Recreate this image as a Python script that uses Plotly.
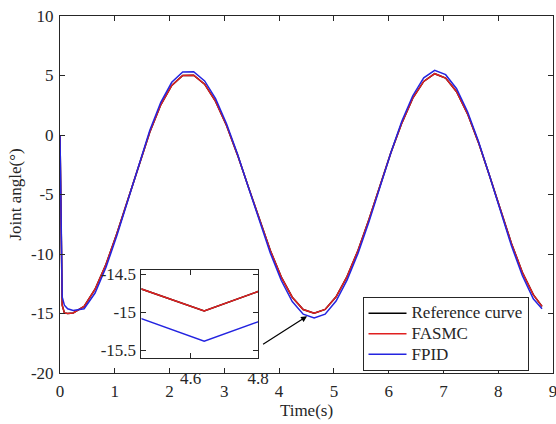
import plotly.graph_objects as go

time_s = [0, 0.02, 0.04, 0.08, 0.14, 0.24, 0.44, 0.64, 0.84, 1.04, 1.24, 1.44, 1.64, 1.84, 2.04,
          2.24, 2.44, 2.64, 2.84, 3.04, 3.24, 3.44, 3.64, 3.84, 4.04, 4.24, 4.44, 4.64, 4.84,
          5.04, 5.24, 5.44, 5.64, 5.84, 6.04, 6.24, 6.44, 6.64, 6.84, 7.04, 7.24, 7.44, 7.64,
          7.84, 8.04, 8.24, 8.44, 8.64, 8.80]

fasmc = [0, -8.0, -14.3, -14.95, -15.0, -14.95, -14.4, -12.96, -10.86, -8.26, -5.37, -2.45, 0.26,
         2.54, 4.17, 5.01, 5.02, 4.27, 2.83, 0.80, -1.67, -4.38, -7.13, -9.71, -11.94, -13.63,
         -14.67, -14.98, -14.66, -13.6, -11.9, -9.7, -7.1, -4.3, -1.5, 1.0, 3.1, 4.5, 5.15,
         4.78, 3.64, 1.78, -0.64, -3.41, -6.31, -9.09, -11.53, -13.42, -14.40]

reference = [0, -8.0, -14.3, -14.95, -15.0, -14.95, -14.4, -12.96, -10.86, -8.26, -5.37, -2.45, 0.26,
             2.54, 4.17, 5.01, 5.02, 4.27, 2.83, 0.80, -1.67, -4.38, -7.13, -9.71, -11.94, -13.63,
             -14.67, -14.98, -14.66, -13.6, -11.9, -9.7, -7.1, -4.3, -1.5, 1.0, 3.1, 4.5, 5.15,
             4.78, 3.64, 1.78, -0.64, -3.41, -6.31, -9.09, -11.53, -13.42, -14.40]

fpid = [0, -7.0, -13.6, -14.3, -14.6, -14.75, -14.6, -13.28, -11.12, -8.43, -5.44, -2.41, 0.40,
        2.75, 4.43, 5.30, 5.32, 4.54, 3.05, 0.95, -1.60, -4.41, -7.25, -9.93, -12.23, -13.99,
        -15.06, -15.38, -15.06, -13.95, -12.2, -9.95, -7.3, -4.4, -1.5, 1.15, 3.3, 4.8, 5.43,
        5.07, 3.89, 1.96, -0.54, -3.41, -6.41, -9.29, -11.81, -13.77, -14.6]

x_ticks = [0, 1, 2, 3, 4, 5, 6, 7, 8, 9]
y_ticks = [-20, -15, -10, -5, 0, 5, 10]
y_ticktext = ["-20", "-15", "-10", "-5", "0", "5", "10"]
inset_x_ticks = [4.6, 4.8]
inset_y_ticks = [-15.5, -15, -14.5]
inset_y_ticktext = ["-15.5", "-15", "-14.5"]

names = ["Reference curve", "FASMC", "FPID"]
colors = ["#000000", "#e02020", "#2424e0"]
series = [reference, fasmc, fpid]

FONT = "Liberation Serif"
AX = "#262626"

fig = go.Figure()
for nm, col, ys in zip(names, colors, series):
    fig.add_trace(go.Scatter(x=time_s, y=ys, mode="lines",
                             name='<span style="font-size:17px">' + nm + '</span>',
                             line=dict(color=col, width=1.5)))
for nm, col, ys in zip(names, colors, series):
    fig.add_trace(go.Scatter(x=time_s, y=ys, mode="lines", name=nm, showlegend=False,
                             line=dict(color=col, width=1.5), xaxis="x2", yaxis="y2"))

axis_common = dict(showline=True, mirror="ticks", linecolor=AX, linewidth=1,
                   ticks="inside", ticklen=5, tickcolor=AX, showgrid=False, zeroline=False,
                   automargin=False,
                   tickfont=dict(family=FONT, size=17, color="#262626"))

fig.update_layout(
    width=556, height=424,
    margin=dict(l=60, r=3, t=16, b=51),
    plot_bgcolor="white", paper_bgcolor="white",
    font=dict(family=FONT, size=17, color="#262626"),
    xaxis=dict(range=[0, 9], tickvals=x_ticks, domain=[0, 1], ticklabelstandoff=3,
               ticklabeloverflow="allow",
               title=dict(text="Time(s)", font=dict(family=FONT, size=17), standoff=2),
               **axis_common),
    yaxis=dict(range=[-20, 10], tickvals=y_ticks, ticktext=y_ticktext, domain=[0, 1],
               ticklabelstandoff=2,
               title=dict(text="Joint angle(°)", font=dict(family=FONT, size=17), standoff=4),
               **axis_common),
    xaxis2=dict(range=[4.454, 4.8001], tickvals=inset_x_ticks, domain=[0.1653, 0.402],
                anchor="y2", ticklabelstandoff=5, ticklabeloverflow="allow", **axis_common),
    yaxis2=dict(range=[-15.597, -14.434], tickvals=inset_y_ticks, ticktext=inset_y_ticktext,
                domain=[0.0432, 0.2899], anchor="x2", ticklabelstandoff=1, **axis_common),
    legend=dict(x=0.6136, y=0.2131, xanchor="left", yanchor="top",
                bgcolor="white", bordercolor="#262626", borderwidth=1,
                font=dict(family=FONT, size=13.5, color="#262626"),
                itemwidth=38, tracegroupgap=0),
    showlegend=True,
)

fig.add_annotation(x=4.51, y=-15.23, ax=3.68, ay=-17.67, xref="x", yref="y",
                   axref="x", ayref="y", text="", showarrow=True, arrowhead=2,
                   arrowsize=1, arrowwidth=1.2, arrowcolor="black")

fig.write_html("out.html", config={"displayModeBar": False},
               post_script="document.body.style.margin='0px';")
